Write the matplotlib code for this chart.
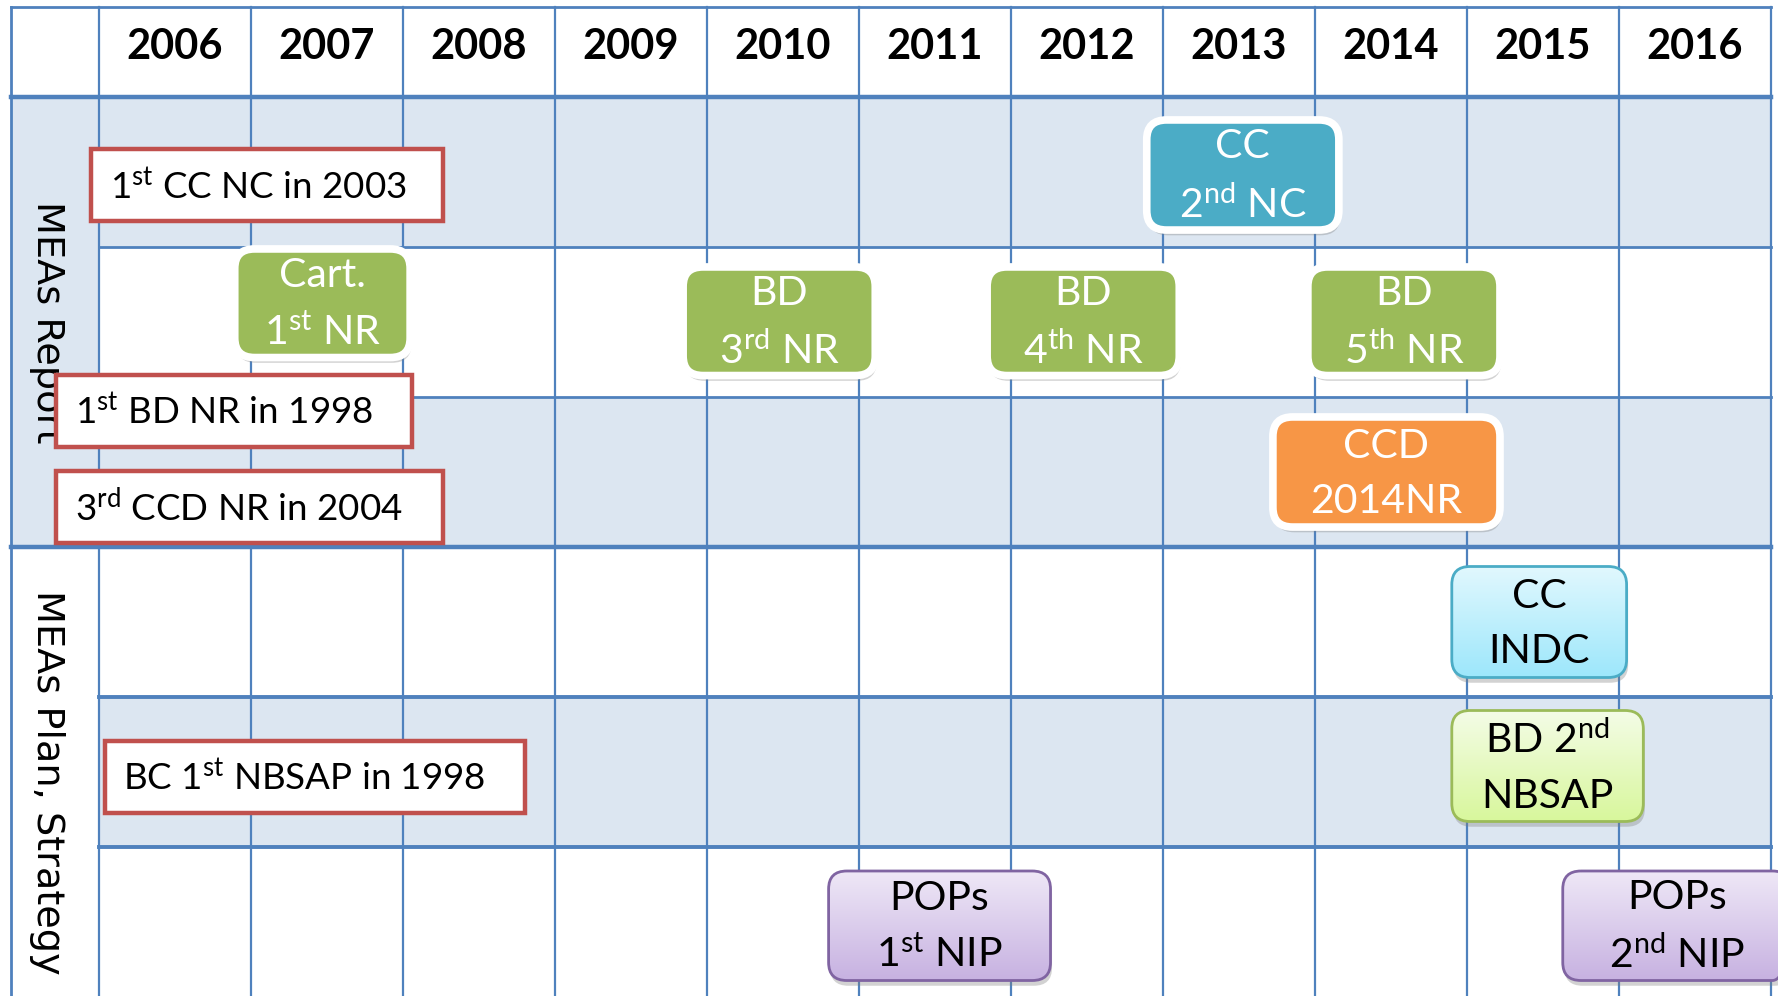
import numpy as np
import matplotlib
matplotlib.use("Agg")
import matplotlib.pyplot as plt
from matplotlib.patches import FancyBboxPatch, Rectangle
from matplotlib.colors import to_rgb

plt.rcParams['font.family'] = ['Lato', 'DejaVu Sans']
plt.rcParams['mathtext.fontset'] = 'custom'
plt.rcParams['mathtext.rm'] = 'Lato'
plt.rcParams['mathtext.it'] = 'Lato:italic'
plt.rcParams['mathtext.bf'] = 'Lato:bold'

# ---- data -------------------------------------------------------------
years = list(range(2006, 2017))
section_labels = ['MEAs Report', 'MEAs Plan, Strategy']
section_rows = [(0, 3), (3, 6)]
shaded_rows = [0, 2, 4]

def sup(s):
    return r'$^{\mathrm{' + s + '}}$'

# earlier reports (red outlined notes)
note_labels = ['1' + sup('st') + ' CC NC in 2003',
               '1' + sup('st') + ' BD NR in 1998',
               '3' + sup('rd') + ' CCD NR in 2004',
               'BC 1' + sup('st') + ' NBSAP in 1998']
note_start = [2005.45, 2005.22, 2005.22, 2005.54]
note_end = [2007.76, 2007.56, 2007.76, 2008.30]
note_top = [0.35, 1.85, 2.49, 4.29]
note_bottom = [0.83, 2.33, 2.97, 4.77]

# reports (solid boxes)
report_labels = ['Cart.\n1' + sup('st') + ' NR',
                 'BD\n3' + sup('rd') + ' NR',
                 'BD\n4' + sup('th') + ' NR',
                 'BD\n5' + sup('th') + ' NR',
                 'CC\n2' + sup('nd') + ' NC',
                 'CCD\n2014NR']
report_start = [2006.37, 2009.32, 2011.32, 2013.43, 2012.37, 2013.20]
report_end = [2007.57, 2010.63, 2012.63, 2014.74, 2013.68, 2014.74]
report_top = [0.99, 1.11, 1.11, 1.11, 0.13, 2.11]
report_bottom = [1.76, 1.88, 1.88, 1.88, 0.91, 2.89]
report_colors = ['#9BBB59', '#9BBB59', '#9BBB59', '#9BBB59', '#4BACC6', '#F79646']

# plans / strategies (gradient boxes)
plan_labels = ['CC\nINDC',
               'BD 2' + sup('nd') + '\nNBSAP',
               'POPs\n1' + sup('st') + ' NIP',
               'POPs\n2' + sup('nd') + ' NIP']
plan_start = [2014.40, 2014.40, 2010.30, 2015.13]
plan_end = [2015.55, 2015.66, 2011.76, 2016.63]
plan_top = [3.13, 4.09, 5.16, 5.16]
plan_bottom = [3.87, 4.83, 5.89, 5.89]
plan_top_colors = ['#E2F8FE', '#F4FCE7', '#EFE8F7', '#EFE8F7']
plan_bottom_colors = ['#9DE7FB', '#D8F79C', '#C7B2E1', '#C7B2E1']
plan_edge_colors = ['#4BACC6', '#9BBB59', '#8064A2', '#8064A2']

# ---- layout -----------------------------------------------------------
grid_color = '#4F81BD'
shade = '#DCE6F1'
label_left = years[0] - 0.5 - 88 / 152
right = years[-1] + 0.5
header_top = -0.6
bottom = 6.2

fig = plt.figure(figsize=(17.78, 9.96), dpi=100)
ax = fig.add_axes([0, 0, 1, 1])
ax.axis('off')
xlim = (years[0] - 0.5 - 99 / 152, years[0] - 0.5 + 1679 / 152)
ylim = (899 / 150, -97 / 150)

# shading
for (r0, r1) in section_rows[:1]:
    ax.add_patch(Rectangle((label_left, r0), years[0] - 0.5 - label_left, r1 - r0,
                           facecolor=shade, edgecolor='none', zorder=0))
for r in shaded_rows:
    ax.add_patch(Rectangle((years[0] - 0.5, r), right - years[0] + 0.5, 1,
                           facecolor=shade, edgecolor='none', zorder=0))

# grid lines
ax.plot([label_left, label_left], [header_top, bottom], color=grid_color, lw=2, zorder=1)
for y in years:
    ax.plot([y - 0.5, y - 0.5], [header_top, bottom], color=grid_color, lw=1.6, zorder=1)
ax.plot([right, right], [header_top, bottom], color=grid_color, lw=1.6, zorder=1)
ax.plot([label_left, right], [header_top, header_top], color=grid_color, lw=2, zorder=1)
for (r0, r1) in section_rows:
    ax.plot([label_left, right], [r0, r0], color=grid_color, lw=3.2, zorder=1)
    for r in range(r0 + 1, r1):
        ax.plot([years[0] - 0.5, right], [r, r], color=grid_color,
                lw=2.0 if r0 == 0 else 2.8, zorder=1)

# header
for y in years:
    ax.text(y, -0.335, str(y), ha='center', va='center', fontsize=30,
            fontweight='bold', color='black', zorder=2)

# section labels
for lab, (r0, r1) in zip(section_labels, section_rows):
    yc = (r0 + r1) / 2 + (0.0 if r0 == 0 else 0.07)
    ax.text(label_left + 0.235, yc, lab, rotation=270, ha='center', va='center',
            fontsize=27.5, family=['DejaVu Sans'], color='black', zorder=2)

# notes
for lab, x0, x1, y0, y1 in zip(note_labels, note_start, note_end, note_top, note_bottom):
    ax.add_patch(Rectangle((x0, y0), x1 - x0, y1 - y0, facecolor='white',
                           edgecolor='#C0504D', lw=3.2, zorder=3))
    ax.text(x0 + 0.12, (y0 + y1) / 2 + 0.01, lab, ha='left', va='center',
            fontsize=26.5, color='black', zorder=4)

shrink = 3.5 / 152

def shadow(x0, y0, w, h, rs):
    ax.add_patch(FancyBboxPatch((x0 + 0.01, y0 + 0.035), w, h,
                                boxstyle=f'round,pad=0,rounding_size={rs}',
                                facecolor='#7f7f7f', edgecolor='none',
                                alpha=0.35, zorder=4))

# reports
for lab, x0, x1, y0, y1, c in zip(report_labels, report_start, report_end,
                                 report_top, report_bottom, report_colors):
    x0, x1, y0, y1 = x0 + shrink, x1 - shrink, y0 + shrink, y1 - shrink
    shadow(x0, y0, x1 - x0, y1 - y0, 0.13)
    ax.add_patch(FancyBboxPatch((x0, y0), x1 - x0, y1 - y0,
                                boxstyle='round,pad=0,rounding_size=0.13',
                                facecolor=c, edgecolor='white', lw=5.5, zorder=5))
    ax.text((x0 + x1) / 2, (y0 + y1) / 2 + 0.01, lab, ha='center', va='center',
            fontsize=29.5, color='white', linespacing=1.6, zorder=6)

# plans
for i, lab in enumerate(plan_labels):
    x0, x1, y0, y1 = plan_start[i], plan_end[i], plan_top[i], plan_bottom[i]
    shadow(x0, y0, x1 - x0, y1 - y0, 0.12)
    box = FancyBboxPatch((x0, y0), x1 - x0, y1 - y0,
                         boxstyle='round,pad=0,rounding_size=0.12',
                         facecolor='none', edgecolor=plan_edge_colors[i], lw=2, zorder=6)
    ax.add_patch(box)
    t = np.linspace(0, 1, 128)[:, None, None]
    grad = (1 - t) * np.array(to_rgb(plan_top_colors[i])) + t * np.array(to_rgb(plan_bottom_colors[i]))
    im = ax.imshow(grad, extent=(x0, x1, y1, y0), origin='upper', aspect='auto',
                   interpolation='bilinear', zorder=5)
    im.set_clip_path(box)
    ax.text((x0 + x1) / 2, (y0 + y1) / 2 + 0.01, lab, ha='center', va='center',
            fontsize=29.5, color='black', linespacing=1.6, zorder=7)

ax.set_xlim(*xlim)
ax.set_ylim(*ylim)
fig.savefig('out.png', dpi=100, facecolor='white')
